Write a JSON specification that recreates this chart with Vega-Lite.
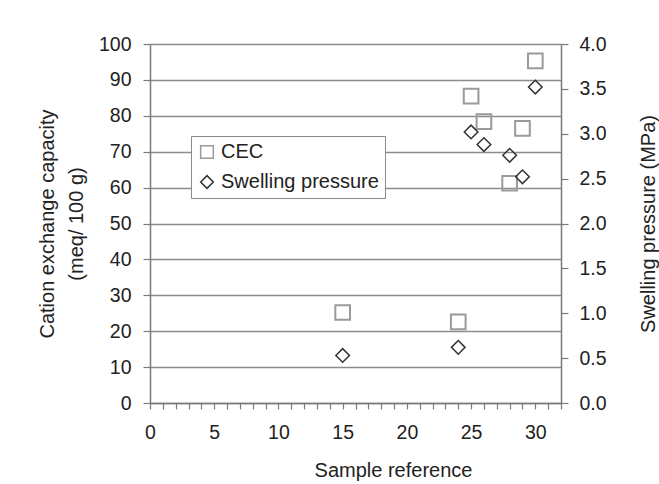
{
  "$schema": "https://vega.github.io/schema/vega-lite/v6.json",
  "autosize": "none",
  "width": 411,
  "height": 359,
  "padding": {"left": 150, "top": 44, "right": 98, "bottom": 81},
  "background": "white",
  "config": {
    "view": {"stroke": null},
    "font": "Liberation Sans",
    "axis": {
      "domainColor": "#7a7a7a",
      "domainWidth": 1.5,
      "tickColor": "#7a7a7a",
      "tickWidth": 1.2,
      "labelFont": "Liberation Sans",
      "labelFontSize": 19.5,
      "labelColor": "#222222",
      "titleFont": "Liberation Sans",
      "titleFontSize": 20,
      "titleFontWeight": "normal",
      "titleColor": "#222222"
    },
    "legend": {
      "labelFont": "Liberation Sans",
      "labelFontSize": 20,
      "labelColor": "#222222"
    }
  },
  "data": {
    "values": [
      {"sample": 15, "series": "CEC", "value": 25.2},
      {"sample": 24, "series": "CEC", "value": 22.6},
      {"sample": 25, "series": "CEC", "value": 85.5},
      {"sample": 26, "series": "CEC", "value": 78.4},
      {"sample": 28, "series": "CEC", "value": 61.2},
      {"sample": 29, "series": "CEC", "value": 76.5},
      {"sample": 30, "series": "CEC", "value": 95.3},
      {"sample": 15, "series": "Swelling pressure", "value": 0.53},
      {"sample": 24, "series": "Swelling pressure", "value": 0.62},
      {"sample": 25, "series": "Swelling pressure", "value": 3.02},
      {"sample": 26, "series": "Swelling pressure", "value": 2.88},
      {"sample": 28, "series": "Swelling pressure", "value": 2.76},
      {"sample": 29, "series": "Swelling pressure", "value": 2.52},
      {"sample": 30, "series": "Swelling pressure", "value": 3.52}
    ]
  },
  "encoding": {
    "x": {
      "field": "sample",
      "type": "quantitative",
      "scale": {"domain": [0, 32], "nice": false},
      "axis": {
        "title": "Sample reference",
        "values": [0,1,2,3,4,5,6,7,8,9,10,11,12,13,14,15,16,17,18,19,20,21,22,23,24,25,26,27,28,29,30,31,32],
        "labelExpr": "datum.value % 5 === 0 ? datum.label : ''",
        "grid": false,
        "tickSize": 6,
        "labelPadding": 14,
        "titlePadding": 19,
        "titleX": 243,
        "titleAlign": "center",
        "labelFlush": false,
        "labelOverlap": false
      }
    },
    "color": {
      "field": "series",
      "type": "nominal",
      "scale": {"domain": ["CEC", "Swelling pressure"], "range": ["#9a9a9a", "#333333"]},
      "legend": {
        "title": null,
        "orient": "none",
        "legendX": 41,
        "legendY": 92,
        "strokeColor": "#8a8a8a",
        "fillColor": "white",
        "padding": 6,
        "rowPadding": 10,
        "symbolSize": 160,
        "symbolStrokeWidth": 1.5,
        "labelOffset": 4,
        "labelLimit": 300
      }
    },
    "shape": {
      "field": "series",
      "type": "nominal",
      "scale": {"domain": ["CEC", "Swelling pressure"], "range": ["square", "diamond"]},
      "legend": {
        "title": null,
        "orient": "none",
        "legendX": 41,
        "legendY": 92,
        "strokeColor": "#8a8a8a",
        "fillColor": "white",
        "padding": 6,
        "rowPadding": 10,
        "symbolSize": 160,
        "symbolStrokeWidth": 1.5,
        "labelOffset": 4,
        "labelLimit": 300
      }
    }
  },
  "layer": [
    {
      "transform": [{"filter": "datum.series === 'CEC'"}],
      "mark": {"type": "point", "filled": false, "size": 215, "strokeWidth": 2, "opacity": 1},
      "encoding": {
        "y": {
          "field": "value",
          "type": "quantitative",
          "scale": {"domain": [0, 100], "nice": false},
          "axis": {
            "orient": "left",
            "title": ["Cation exchange capacity", "(meq/ 100 g)"],
            "values": [0, 10, 20, 30, 40, 50, 60, 70, 80, 90, 100],
            "grid": true,
            "gridColor": "#8c8c8c",
            "gridWidth": 1.5,
            "tickSize": 7,
            "labelPadding": 12,
            "titleX": -103,
            "titleY": 179.5,
            "titleAngle": -90,
            "titleAlign": "center",
            "titleBaseline": "middle",
            "titleLineHeight": 29
          }
        }
      }
    },
    {
      "transform": [{"filter": "datum.series === 'Swelling pressure'"}],
      "mark": {"type": "point", "filled": false, "size": 185, "strokeWidth": 1.5, "opacity": 1},
      "encoding": {
        "y": {
          "field": "value",
          "type": "quantitative",
          "scale": {"domain": [0, 4], "nice": false},
          "axis": {
            "orient": "right",
            "title": "Swelling pressure (MPa)",
            "values": [0, 0.5, 1, 1.5, 2, 2.5, 3, 3.5, 4],
            "format": ".1f",
            "grid": false,
            "tickSize": 7,
            "labelPadding": 11,
            "titleX": 87,
            "titleY": 179.5,
            "titleAngle": -90,
            "titleAlign": "center",
            "titleBaseline": "middle"
          }
        }
      }
    }
  ],
  "resolve": {"scale": {"y": "independent"}}
}
